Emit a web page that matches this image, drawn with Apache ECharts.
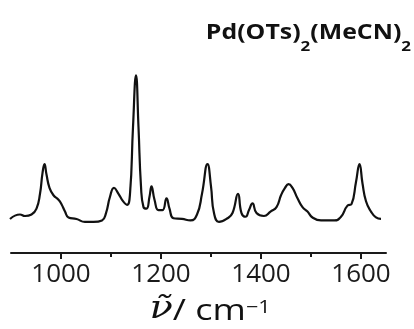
<!DOCTYPE html>
<html>
<head>
<meta charset="utf-8">
<script src="https://cdn.jsdelivr.net/npm/echarts@6/dist/echarts.min.js"></script>
<style>
html,body{margin:0;padding:0;background:#fff;}
#c{width:414px;height:329px;}
</style>
</head>
<body>
<div id="c"></div>
<script>
// Wavenumbers (cm^-1) and relative intensity
var wavenumbers = [898, 918, 928, 941, 951, 958, 963, 967, 971, 977, 985, 995, 1001, 1008, 1015, 1031, 1048, 1065, 1082, 1090, 1098, 1106, 1115, 1124, 1132, 1138, 1144, 1150, 1155, 1160, 1165, 1171, 1177, 1181, 1187, 1195, 1203, 1211, 1217, 1225, 1242, 1259, 1272, 1282, 1293, 1300, 1306, 1316, 1333, 1343, 1354, 1361, 1369, 1376, 1383, 1391, 1406, 1419, 1431, 1440, 1448, 1455, 1463, 1473, 1483, 1493, 1503, 1520, 1547, 1560, 1573, 1581, 1590, 1597, 1603, 1610, 1620, 1630, 1640];
var intensity = [0.02, 0.05, 0.04, 0.05, 0.09, 0.19, 0.33, 0.39, 0.32, 0.23, 0.18, 0.15, 0.12, 0.07, 0.03, 0.02, 0.00, 0.00, 0.01, 0.06, 0.17, 0.23, 0.19, 0.14, 0.115, 0.19, 0.64, 0.99, 0.64, 0.24, 0.10, 0.09, 0.17, 0.24, 0.15, 0.08, 0.08, 0.16, 0.09, 0.025, 0.02, 0.01, 0.05, 0.19, 0.39, 0.24, 0.06, 0.00, 0.025, 0.06, 0.19, 0.06, 0.035, 0.08, 0.125, 0.06, 0.04, 0.07, 0.10, 0.18, 0.23, 0.255, 0.23, 0.16, 0.10, 0.07, 0.03, 0.01, 0.01, 0.035, 0.11, 0.12, 0.27, 0.39, 0.26, 0.14, 0.07, 0.03, 0.02];
var majorTicks = [1000, 1200, 1400, 1600];
var minorTicks = [1100, 1300, 1500];
var xMin = 900, xMax = 1650;

var seriesData = wavenumbers.map(function (w, i) { return [w, intensity[i]]; });

var chart = echarts.init(document.getElementById('c'), null, {renderer: 'canvas'});
chart.setOption({
  backgroundColor: '#ffffff',
  animation: false,
  grid: {left: 11, right: 28, top: 60, bottom: 76},
  xAxis: [{
    type: 'value', min: xMin, max: xMax,
    axisLine: {show: true, onZero: false, lineStyle: {color: '#1a1a1a', width: 2}},
    axisTick: {show: true, customValues: majorTicks, length: 6, inside: false, lineStyle: {color: '#1a1a1a', width: 2}},
    axisLabel: {show: true, customValues: majorTicks, margin: 9, fontSize: 26, fontFamily: 'Open Sans', color: '#1a1a1a',
      formatter: function (v) { return String(v); }},
    splitLine: {show: false}
  }, {
    type: 'value', min: xMin, max: xMax, position: 'bottom', offset: 0,
    axisLine: {show: false, onZero: false},
    axisTick: {show: true, customValues: minorTicks, length: 4, inside: false, lineStyle: {color: '#1a1a1a', width: 2}},
    axisLabel: {show: false},
    splitLine: {show: false}
  }],
  yAxis: {
    type: 'value', min: -0.21, max: 1.094, show: false,
    splitLine: {show: false}
  },
  series: [{
    type: 'line', xAxisIndex: 0, data: seriesData,
    showSymbol: false, symbol: 'none', smooth: 0.5,
    lineStyle: {color: '#111111', width: 2.2}
  }],
  graphic: [{
    type: 'text', x: 411, y: 22, scaleX: 1.13,
    style: {
      text: '{m|Pd(OTs)}{s|2}{m|(MeCN)}{s|2}',
      align: 'right', verticalAlign: 'top',
      rich: {
        m: {fontSize: 22, fontWeight: 'bold', fontFamily: 'Open Sans', fill: '#111', verticalAlign: 'top'},
        s: {fontSize: 15, fontWeight: 'bold', fontFamily: 'Open Sans', fill: '#111', verticalAlign: 'top', padding: [17, 0, 0, 0]}
      }
    }
  }, {
    type: 'text', x: 210, y: 294, scaleX: 1.2,
    style: {
      text: '{nu|ν̃}{t|/ cm}{sup|−1}',
      align: 'center', verticalAlign: 'top',
      rich: {
        nu: {fontSize: 32, fontStyle: 'italic', fontFamily: 'DejaVu Serif', fill: '#111', verticalAlign: 'top'},
        t: {fontSize: 30, fontFamily: 'Open Sans', fill: '#111', verticalAlign: 'top', padding: [2, 0, 0, 0]},
        sup: {fontSize: 18, fontFamily: 'Open Sans', fill: '#111', verticalAlign: 'top', padding: [5, 0, 0, 0]}
      }
    }
  }]
});
</script>
</body>
</html>
